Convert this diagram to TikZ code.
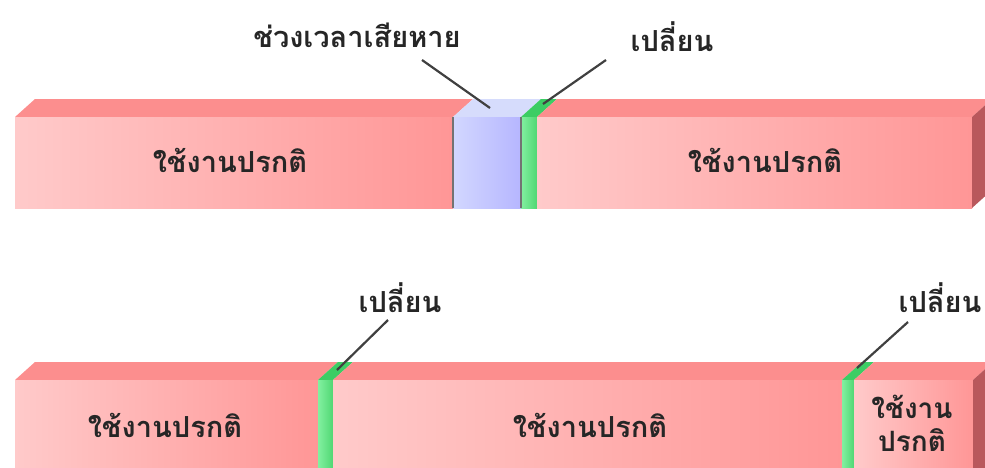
\documentclass[tikz,border=0pt]{standalone}
\usepackage{fontspec}
\newfontfamily\thaifont[Script=Thai]{Loma}
\usetikzlibrary{positioning}

\definecolor{redlight}{RGB}{255,202,202}
\definecolor{reddeep}{RGB}{255,150,150}
\definecolor{redtop}{RGB}{252,142,142}
\definecolor{redside}{RGB}{185,88,92}
\definecolor{bluelight}{RGB}{210,215,255}
\definecolor{bluedeep}{RGB}{182,182,255}
\definecolor{bluetop}{RGB}{214,220,252}
\definecolor{greenlight}{RGB}{130,240,160}
\definecolor{greendeep}{RGB}{80,215,115}
\definecolor{greentop}{RGB}{60,205,100}

\tikzset{
  thaitext/.style={font=\thaifont\bfseries\fontsize{29}{34}\selectfont, text=black!85, inner sep=1pt},
  leader/.style={draw=black!75, line width=2.2pt},
  seam/.style={draw=black!55, line width=1.2pt},
}

% one block of the bar: x1, x2, top, bottom, front left, front right, top colour
\newcommand{\block}[7]{
  \fill[#7] (#1,#3) -- (#1+20,#3-18) -- (#2+20,#3-18) -- (#2,#3) -- cycle;
  \shade[left color=#5, right color=#6] (#1,#3) rectangle (#2,#4);
}
\newcommand{\blockend}[3]{
  \fill[redside] (#1,#2) -- (#1+20,#2-18) -- (#1+20,#3-18) -- (#1,#3) -- cycle;
}

\begin{document}
\begin{tikzpicture}[x=1pt, y=-1pt]
        \useasboundingbox (0,0) rectangle (985,467);
        \clip (0,0) rectangle (985,467);
        % Top bar
        \block{15}{453}{117}{208}{redlight}{reddeep}{redtop}
        \block{453}{521}{117}{208}{bluelight}{bluedeep}{bluetop}
        \block{521}{537}{117}{208}{greenlight}{greendeep}{greentop}
        \block{537}{972}{117}{208}{redlight}{reddeep}{redtop}
        \blockend{972}{117}{208}
        \draw[seam] (453,117) -- (453,208);
        \draw[seam] (521,117) -- (521,208);
        % Bottom bar
        \block{15}{318}{380}{480}{redlight}{reddeep}{redtop}
        \block{318}{333}{380}{480}{greenlight}{greendeep}{greentop}
        \block{333}{842}{380}{480}{redlight}{reddeep}{redtop}
        \block{842}{854}{380}{480}{greenlight}{greendeep}{greentop}
        \block{854}{973}{380}{480}{redlight}{reddeep}{redtop}
        \blockend{973}{380}{480}
        % Texts in the bars
        \node (use1) at (230,160) [thaitext] {ใช้งานปรกติ};
        \node (use2) at (765,160) [thaitext] {ใช้งานปรกติ};
        \node (use3) at (165,425) [thaitext] {ใช้งานปรกติ};
        \node (use4) at (590,425) [thaitext] {ใช้งานปรกติ};
        \node (use5) at (912,423) [thaitext, align=center, font=\thaifont\bfseries\fontsize{28}{33}\selectfont] {ใช้งาน\\ปรกติ};
        % Labels
        \node (loss) at (357,35) [thaitext] {ช่วงเวลาเสียหาย};
        \node (swap1) at (672,37) [thaitext] {เปลี่ยน};
        \node (swap2) at (400,298) [thaitext] {เปลี่ยน};
        \node (swap3) at (940,298) [thaitext] {เปลี่ยน};
        % Leaders
        \coordinate (loss a) at (422,60);
        \coordinate (loss b) at (490,108);
        \coordinate (swap1 a) at (606,60);
        \coordinate (swap1 b) at (543,104);
        \coordinate (swap2 a) at (388,320);
        \coordinate (swap2 b) at (337,370);
        \coordinate (swap3 a) at (908,322);
        \coordinate (swap3 b) at (857,368);
        \draw[leader] (loss a) -- (loss b);
        \draw[leader] (swap1 a) -- (swap1 b);
        \draw[leader] (swap2 a) -- (swap2 b);
        \draw[leader] (swap3 a) -- (swap3 b);
    \end{tikzpicture}
\end{document}
